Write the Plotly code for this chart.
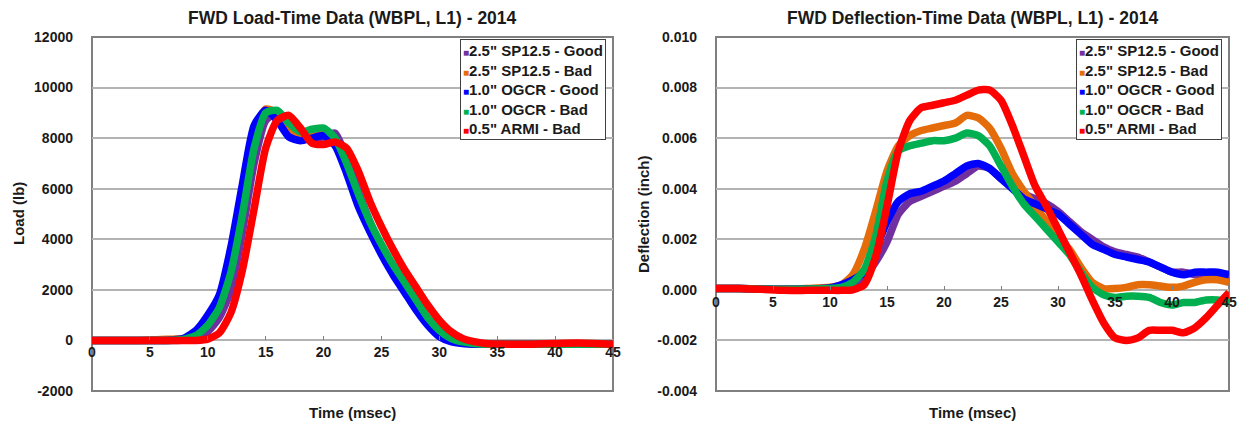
import plotly.graph_objects as go

# ---------------- data ----------------
series_names = ['2.5" SP12.5 - Good', '2.5" SP12.5 - Bad', '1.0" OGCR - Good',
                '1.0" OGCR - Bad', '0.5" ARMI - Bad']
series_colors = ["#7030A0", "#E46C0A", "#0000FF", "#00B050", "#FF0000"]

# Load-time histories (lb)
load_time_ms = [0, 2, 4, 6, 7, 8, 9, 10, 11, 12, 13, 14, 15, 16, 17, 18, 19, 20, 21,
                22, 23, 24, 25, 26, 27, 28, 29, 30, 31, 32, 33, 34, 36, 38, 40, 42, 45]
load_sp_good = [0, 0, 0, 0, 0, 20, 100, 350, 900, 2000, 4300, 7000, 8700, 9000, 8600, 8100,
                7950, 8050, 8200, 7200, 5900, 4700, 3700, 2900, 2200, 1500, 850, 350, 60,
                -60, -120, -150, -150, -150, -150, -150, -150]
load_sp_bad = [0, 0, 0, 40, 50, 80, 300, 800, 1600, 3200, 5700, 8200, 9150, 9000, 8400, 8100,
               8200, 8300, 7900, 6900, 5600, 4500, 3600, 2800, 2100, 1400, 750, 300, 30,
               -80, -130, -150, -150, -150, -150, -150, -150]
load_ogcr_good = [0, 0, 0, 0, 20, 100, 400, 1000, 1800, 3700, 6200, 8500, 9100, 8700, 8050,
                  7900, 8000, 8100, 7700, 6600, 5300, 4300, 3400, 2600, 1900, 1200, 600, 150,
                  -50, -120, -150, -150, -150, -150, -150, -150, -150]
load_ogcr_bad = [0, 0, 0, 0, 10, 50, 200, 600, 1300, 2700, 5000, 7600, 9000, 9100, 8600, 8250,
                 8350, 8400, 8000, 7000, 5800, 4700, 3800, 3000, 2300, 1600, 900, 400, 80,
                 -60, -120, -150, -150, -150, -150, -150, -150]
load_armi_bad = [0, 0, 0, 0, 0, 0, 0, 50, 300, 1100, 2800, 5200, 7600, 8700, 8900, 8400,
                 7800, 7750, 7850, 7600, 6700, 5500, 4500, 3600, 2800, 2100, 1400, 800, 350,
                 80, -50, -120, -150, -150, -120, -100, -150]

# Deflection-time histories (inch)
defl_time_ms = [0, 2, 4, 6, 8, 10, 11, 12, 13, 14, 15, 16, 17, 18, 19, 20, 21, 22, 23, 24,
                25, 26, 27, 28, 29, 30, 31, 32, 33, 34, 35, 36, 37, 38, 39, 40, 41, 42, 43,
                44, 45]
defl_sp_good = [0.00005, 0.00005, 0.00003, 0.00002, 0.00003, 0.00005, 0.0001, 0.0002, 0.0005,
                0.0011, 0.0019, 0.0030, 0.0035, 0.0037, 0.0039, 0.0041, 0.0043, 0.0046,
                0.0049, 0.0048, 0.0044, 0.0041, 0.0038, 0.0036, 0.0034, 0.0031, 0.0027,
                0.0023, 0.0020, 0.0017, 0.0015, 0.0014, 0.0013, 0.0011, 0.0009, 0.0007,
                0.0007, 0.0006, 0.0006, 0.0006, 0.0005]
defl_sp_bad = [0.00005, 0.00005, 0.00003, 0.00002, 0.00005, 0.0001, 0.0002, 0.0006, 0.0016,
               0.0031, 0.0047, 0.0057, 0.0061, 0.0063, 0.0064, 0.0065, 0.0066, 0.0069,
               0.0068, 0.0064, 0.0056, 0.0046, 0.0039, 0.0033, 0.0027, 0.0021, 0.0016,
               0.0009, 0.0003, 0.00005, 0.00005, 0.0001, 0.0002, 0.0002, 0.00015, 0.0001,
               0.00015, 0.0003, 0.0004, 0.0004, 0.0003]
defl_ogcr_good = [0.00005, 0.00005, 0.00003, 0.00002, 0.00003, 0.00008, 0.0002, 0.0004,
                  0.0007, 0.0016, 0.0027, 0.0035, 0.0038, 0.0039, 0.0041, 0.0043, 0.0046,
                  0.0049, 0.0050, 0.0048, 0.0044, 0.0040, 0.0036, 0.0034, 0.0032, 0.0030,
                  0.0026, 0.0022, 0.0018, 0.0016, 0.0014, 0.0013, 0.0012, 0.0011, 0.0009,
                  0.0007, 0.0006, 0.0007, 0.0007, 0.0007, 0.0006]
defl_ogcr_bad = [0.00005, 0.00005, 0.00003, 0.00002, 0.00003, 0.00005, 0.0001, 0.0003, 0.0008,
                 0.0021, 0.0043, 0.0055, 0.0057, 0.0058, 0.0059, 0.0059, 0.0060, 0.0062,
                 0.0061, 0.0057, 0.0049, 0.0041, 0.0034, 0.0029, 0.0024, 0.0019, 0.0014,
                 0.0007, 0.0001, -0.0002, -0.0003, -0.00025, -0.00025, -0.0003, -0.0005,
                 -0.0006, -0.0005, -0.0005, -0.0004, -0.0004, -0.0005]
defl_armi_bad = [0.00005, 0.00005, 0.00002, -0.00002, -0.00002, -0.00002, -0.00002, 0.0,
                 0.0002, 0.0013, 0.0033, 0.0055, 0.0067, 0.0072, 0.0073, 0.0074, 0.0075,
                 0.0077, 0.0079, 0.0079, 0.0075, 0.0065, 0.0053, 0.0041, 0.0033, 0.0024,
                 0.0015, 0.0006, -0.0004, -0.0013, -0.0019, -0.0020, -0.0019, -0.0016,
                 -0.0016, -0.0016, -0.0017, -0.0015, -0.0011, -0.0006, -0.0001]

load_series = [load_sp_good, load_sp_bad, load_ogcr_good, load_ogcr_bad, load_armi_bad]
defl_series = [defl_sp_good, defl_sp_bad, defl_ogcr_good, defl_ogcr_bad, defl_armi_bad]

time_ticks = [0, 5, 10, 15, 20, 25, 30, 35, 40, 45]
load_ticks = [-2000, 0, 2000, 4000, 6000, 8000, 10000, 12000]
load_tick_text = ["-2000", "0", "2000", "4000", "6000", "8000", "10000", "12000"]
defl_ticks = [-0.004, -0.002, 0.0, 0.002, 0.004, 0.006, 0.008, 0.010]
defl_tick_text = ["-0.004", "-0.002", "0.000", "0.002", "0.004", "0.006", "0.008", "0.010"]

titles = ["FWD Load-Time Data (WBPL, L1) - 2014", "FWD Deflection-Time Data (WBPL, L1) - 2014"]
y_titles = ["Load (lb)", "Deflection (inch)"]
x_title = "Time (msec)"

# ---------------- layout geometry (pixels) ----------------
W, H = 1239, 421
FONT = "Liberation Sans, Arial, sans-serif"
TXT = "#1a1a1a"
plot_left = [92, 716]
plot_right = [613, 1229]
plot_top, plot_bottom = 37, 391


def px(x):
    return x / W


def py(y):
    return 1 - y / H


ydom = [py(plot_bottom), py(plot_top)]

fig = go.Figure()

panels = [
    (load_time_ms, load_series, load_ticks, load_tick_text, "x", "y"),
    (defl_time_ms, defl_series, defl_ticks, defl_tick_text, "x2", "y2"),
]

for time, series, yt, ytt, xa, ya in panels:
    for name, color, vals in zip(series_names, series_colors, series):
        fig.add_trace(go.Scatter(
            x=time, y=vals, mode="lines", name=name, xaxis=xa, yaxis=ya,
            line=dict(color=color, width=7.5, shape="spline", smoothing=0.6),
            showlegend=False, hoverinfo="skip"))

axis_common = dict(
    showgrid=False, zeroline=False, showline=False, automargin=False,
    tickfont=dict(family=FONT, size=14, color=TXT, weight="bold"),
)

for i, (time, series, yt, ytt, xa, ya) in enumerate(panels):
    xname = "xaxis" if i == 0 else "xaxis2"
    yname = "yaxis" if i == 0 else "yaxis2"
    ymin, ymax = yt[0], yt[-1]
    # category axis crosses the value axis at zero; the zero gridline serves as its line
    xpos = ydom[0] + (0 - ymin) / (ymax - ymin) * (ydom[1] - ydom[0])
    fig.layout[xname] = dict(
        axis_common,
        domain=[px(plot_left[i]), px(plot_right[i])],
        range=[0, 45], anchor="free", position=xpos,
        tickvals=time_ticks, ticktext=[str(t) for t in time_ticks],
        ticks="inside", ticklen=4, tickcolor="#808080", tickwidth=1,
        ticklabelstandoff=2, ticklabeloverflow="allow",
    )
    fig.layout[yname] = dict(
        axis_common,
        domain=ydom, range=[ymin, ymax],
        anchor="x" if i == 0 else "x2",
        tickvals=yt, ticktext=ytt,
        showgrid=True, gridcolor="#b3b3b3", gridwidth=1.5,
        ticklabelstandoff=18,
    )
    # plot-area frame
    fig.add_shape(type="rect", xref=f"{'x' if i == 0 else 'x2'} domain",
                  yref=f"{'y' if i == 0 else 'y2'} domain",
                  x0=0, x1=1, y0=0, y1=1, layer="below",
                  line=dict(color="#808080", width=2))
    cx = (plot_left[i] + plot_right[i]) / 2
    fig.add_annotation(text=titles[i], xref="paper", yref="paper",
                       x=px(cx), y=py(18), showarrow=False,
                       xanchor="center", yanchor="middle",
                       font=dict(family=FONT, size=17.5, color=TXT, weight="bold"))
    fig.add_annotation(text=x_title, xref="paper", yref="paper",
                       x=px(cx), y=py(412), showarrow=False,
                       xanchor="center", yanchor="middle",
                       font=dict(family=FONT, size=15, color=TXT, weight="bold"))
    fig.add_annotation(text=y_titles[i], xref="paper", yref="paper",
                       x=px(18 if i == 0 else 643), y=py((plot_top + plot_bottom) / 2),
                       showarrow=False, textangle=-90,
                       xanchor="center", yanchor="middle",
                       font=dict(family=FONT, size=15, color=TXT, weight="bold"))
    # legend box
    rows = [f'<span style="color:{c};font-size:10px">&#9632;</span>{n}'
            for n, c in zip(series_names, series_colors)]
    fig.add_annotation(text="<br>".join(rows), xref="paper", yref="paper",
                       x=px(plot_right[i] - 7), y=py(plot_top + 2),
                       xanchor="right", yanchor="top", align="left",
                       showarrow=False, bgcolor="white",
                       bordercolor="#404040", borderwidth=1, borderpad=2,
                       font=dict(family=FONT, size=15, color=TXT, weight="bold"))

fig.update_layout(
    width=W, height=H,
    margin=dict(l=0, r=0, t=0, b=0, autoexpand=False),
    paper_bgcolor="white", plot_bgcolor="white",
    showlegend=False,
)

fig.write_html("out.html")
